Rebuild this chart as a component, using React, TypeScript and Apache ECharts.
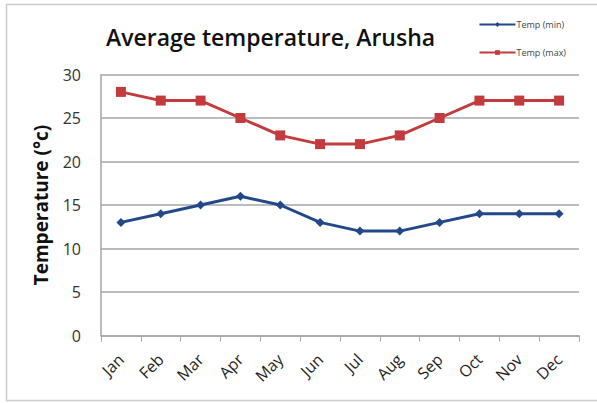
import React, { useEffect, useRef } from "react";
import * as echarts from "echarts";

const months = ["Jan", "Feb", "Mar", "Apr", "May", "Jun", "Jul", "Aug", "Sep", "Oct", "Nov", "Dec"];
const tempMin = [13, 14, 15, 16, 15, 13, 12, 12, 13, 14, 14, 14];
const tempMax = [28, 27, 27, 25, 23, 22, 22, 23, 25, 27, 27, 27];
const yTicks = { min: 0, max: 30, interval: 5 };

const FONT = "'Open Sans', 'DejaVu Sans', sans-serif";

export default function App() {
  const ref = useRef<HTMLDivElement>(null);
  useEffect(() => {
    if (!ref.current) return;
    const chart = echarts.init(ref.current, undefined, { renderer: "svg" });
    chart.setOption({
      animation: false,
      backgroundColor: "#ffffff",
      title: {
        text: "Average temperature, Arusha",
        left: 101,
        top: 20,
        textStyle: { fontFamily: FONT, fontSize: 23, fontWeight: 600, color: "#111111" },
      },
      legend: {
        orient: "vertical",
        right: 26,
        top: 15,
        itemGap: 19,
        itemWidth: 36,
        itemHeight: 6,
        textStyle: { fontFamily: FONT, fontSize: 9, color: "#444444", padding: [0, 0, 0, -4] },
        data: ["Temp (min)", "Temp (max)"],
      },
      graphic: [
        {
          type: "rect",
          shape: { x: 6.5, y: 4.5, width: 600, height: 396 },
          style: { fill: "none", stroke: "#cccccc", lineWidth: 1.5 },
          silent: true,
        },
      ],
      grid: { left: 101, right: 18, top: 74.5, bottom: 67.5, containLabel: false },
      xAxis: {
        type: "category",
        data: months,
        boundaryGap: true,
        axisLine: { lineStyle: { color: "#a6a6a6", width: 1.5 } },
        axisTick: { show: true, length: 6, lineStyle: { color: "#a6a6a6" } },
        axisLabel: {
          rotate: 45,
          fontFamily: FONT,
          fontSize: 16,
          color: "#1f1f1f",
          margin: 21,
          interval: 0,
        },
      },
      yAxis: {
        type: "value",
        min: yTicks.min,
        max: yTicks.max,
        interval: yTicks.interval,
        name: "Temperature (°c)",
        nameLocation: "middle",
        nameGap: 51,
        nameTextStyle: { fontFamily: FONT, fontSize: 19, fontWeight: "bold", color: "#111111" },
        axisLine: { show: true, lineStyle: { color: "#a6a6a6", width: 1.5 } },
        axisTick: { show: false },
        axisLabel: { fontFamily: FONT, fontSize: 16, color: "#333333", margin: 20 },
        splitLine: { lineStyle: { color: "#a6a6a6", width: 1.5 } },
      },
      series: [
        {
          name: "Temp (min)",
          type: "line",
          data: tempMin,
          symbol: "diamond",
          symbolSize: 9,
          lineStyle: { color: "#23488a", width: 3 },
          itemStyle: { color: "#23488a" },
        },
        {
          name: "Temp (max)",
          type: "line",
          data: tempMax,
          symbol: "rect",
          symbolSize: 10,
          lineStyle: { color: "#c33b3d", width: 3 },
          itemStyle: { color: "#c33b3d" },
        },
      ],
    });
    return () => chart.dispose();
  }, []);
  return <div ref={ref} style={{ position: "fixed", left: 0, top: 0, width: 597, height: 403 }} />;
}
